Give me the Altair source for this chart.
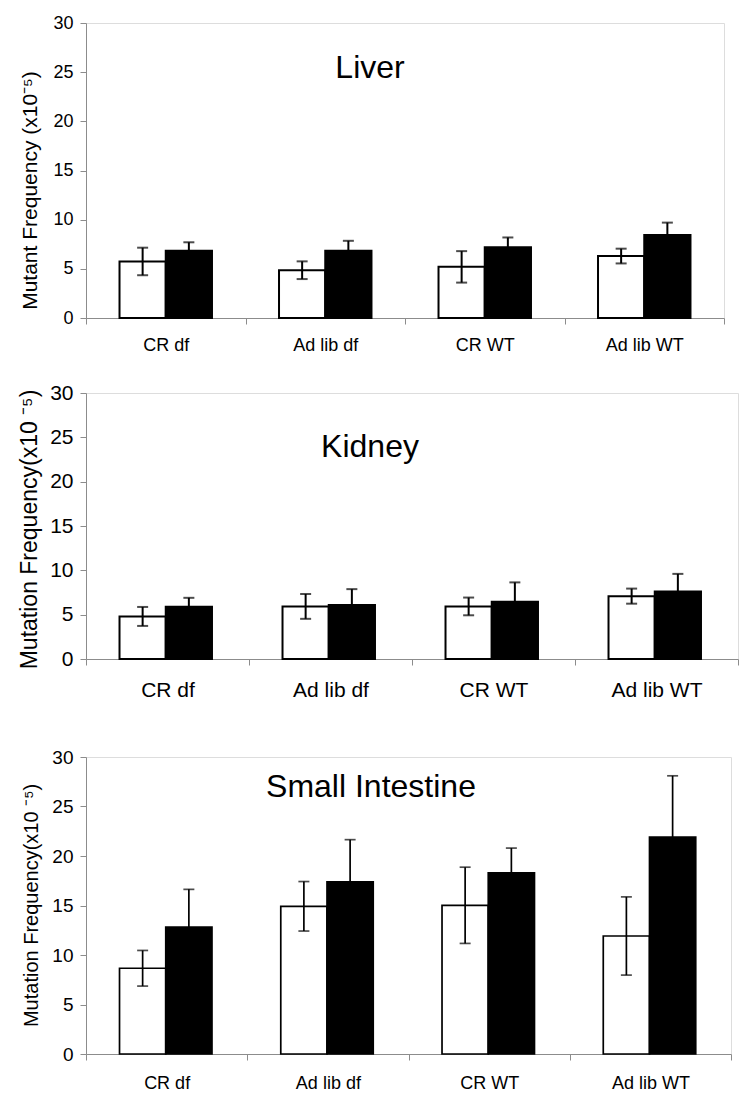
import altair as alt
import pandas as pd

categories = ["CR df", "Ad lib df", "CR WT", "Ad lib WT"]
groups = ["white", "black"]
y_ticks = [0, 5, 10, 15, 20, 25, 30]

liver_white = [5.75, 4.86, 5.2, 6.3]
liver_white_err = [1.4, 0.9, 1.6, 0.75]
liver_black = [6.85, 6.85, 7.19, 8.43]
liver_black_err = [0.85, 1.0, 1.0, 1.27]

kidney_white = [4.8, 5.93, 5.93, 7.09]
kidney_white_err = [1.07, 1.4, 1.0, 0.85]
kidney_black = [5.88, 6.1, 6.45, 7.62]
kidney_black_err = [1.02, 1.78, 2.19, 1.98]

si_white = [8.66, 14.92, 15.02, 11.92]
si_white_err = [1.8, 2.5, 3.85, 3.95]
si_black = [12.83, 17.4, 18.3, 21.9]
si_black_err = [3.8, 4.25, 2.5, 6.2]

FONT = "Liberation Sans"


def make_df(white, werr, black, berr):
    rows = []
    for i, c in enumerate(categories):
        rows.append(dict(cat=c, grp="white", val=white[i], lo=white[i] - werr[i], hi=white[i] + werr[i]))
        rows.append(dict(cat=c, grp="black", val=black[i], lo=black[i] - berr[i], hi=black[i] + berr[i]))
    return pd.DataFrame(rows)


def panel(df, title, ytitle, width, height, ytick_fs, ytitle_fs, xlab_fs, xlab_pad,
          title_x, title_y, ytitle_pad, ytitle_y, stroke_w):
    x = alt.X(
        "cat:N", sort=categories,
        scale=alt.Scale(paddingInner=0, paddingOuter=0),
        axis=alt.Axis(title=None, labelAngle=0, tickBand="extent", tickSize=6,
                      labelFontSize=xlab_fs, labelPadding=xlab_pad, labelFont=FONT,
                      domainColor="#8c8c8c", tickColor="#8c8c8c", labelColor="black"),
    )
    xo = alt.XOffset("grp:N", sort=groups, scale=alt.Scale(paddingInner=0, paddingOuter=0.725))
    yscale = alt.Scale(domain=[0, 30], nice=False)
    yaxis = alt.Axis(values=y_ticks, grid=False, tickSize=6, labelFontSize=ytick_fs, labelFont=FONT,
                     labelPadding=7, domainColor="#8c8c8c", tickColor="#8c8c8c", labelColor="black",
                     title=ytitle, titleFont=FONT, titleFontSize=ytitle_fs, titleFontWeight="normal",
                     titleColor="black", titlePadding=ytitle_pad, titleY=ytitle_y)
    base = alt.Chart(df)
    bars = base.mark_bar(stroke="black", strokeWidth=stroke_w).encode(
        x=x, xOffset=xo,
        y=alt.Y("val:Q", scale=yscale, axis=yaxis),
        fill=alt.Fill("grp:N", scale=alt.Scale(domain=groups, range=["white", "black"]), legend=None),
    )
    rules = base.mark_rule(color="black", strokeWidth=stroke_w).encode(
        x=x, xOffset=xo,
        y=alt.Y("lo:Q", scale=yscale, axis=yaxis), y2="hi:Q",
    )
    cap_hi = base.mark_tick(color="black", thickness=stroke_w, size=11).encode(
        x=x, xOffset=xo, y=alt.Y("hi:Q", scale=yscale, axis=yaxis))
    cap_lo = base.mark_tick(color="black", thickness=stroke_w, size=11).encode(
        x=x, xOffset=xo, y=alt.Y("lo:Q", scale=yscale, axis=yaxis))
    label = alt.Chart(pd.DataFrame({"t": [title]})).mark_text(
        font=FONT, fontSize=32, color="black", align="center", baseline="alphabetic"
    ).encode(text="t:N", x=alt.value(title_x), y=alt.value(title_y))
    return alt.layer(bars, rules, cap_hi, cap_lo, label).properties(width=width, height=height)


liver = panel(make_df(liver_white, liver_white_err, liver_black, liver_black_err),
              "Liver", "Mutant Frequency (x10⁻⁵)", 638, 295,
              18, 21, 18, 12, 284, 55, 12, 167, 2)
kidney = panel(make_df(kidney_white, kidney_white_err, kidney_black, kidney_black_err),
               "Kidney", "Mutation Frequency(x10   ⁻⁵)", 652, 266,
               21, 23, 21, 14, 284, 64, 8, 136, 2)
si = panel(make_df(si_white, si_white_err, si_black, si_black_err),
           "Small Intestine", "Mutation Frequency(x10   ⁻⁵)", 645, 297,
           19, 20, 18, 14, 285, 40, 10, 148, 1.7)

chart = alt.vconcat(alt.vconcat(liver, kidney, spacing=26), si, spacing=46).properties(
    padding={"left": 10, "top": 5, "right": 0, "bottom": 0}
).configure_view(
    strokeWidth=0
).configure(background="white")

chart.save("out.html", embed_options={"renderer": "svg", "actions": False})
